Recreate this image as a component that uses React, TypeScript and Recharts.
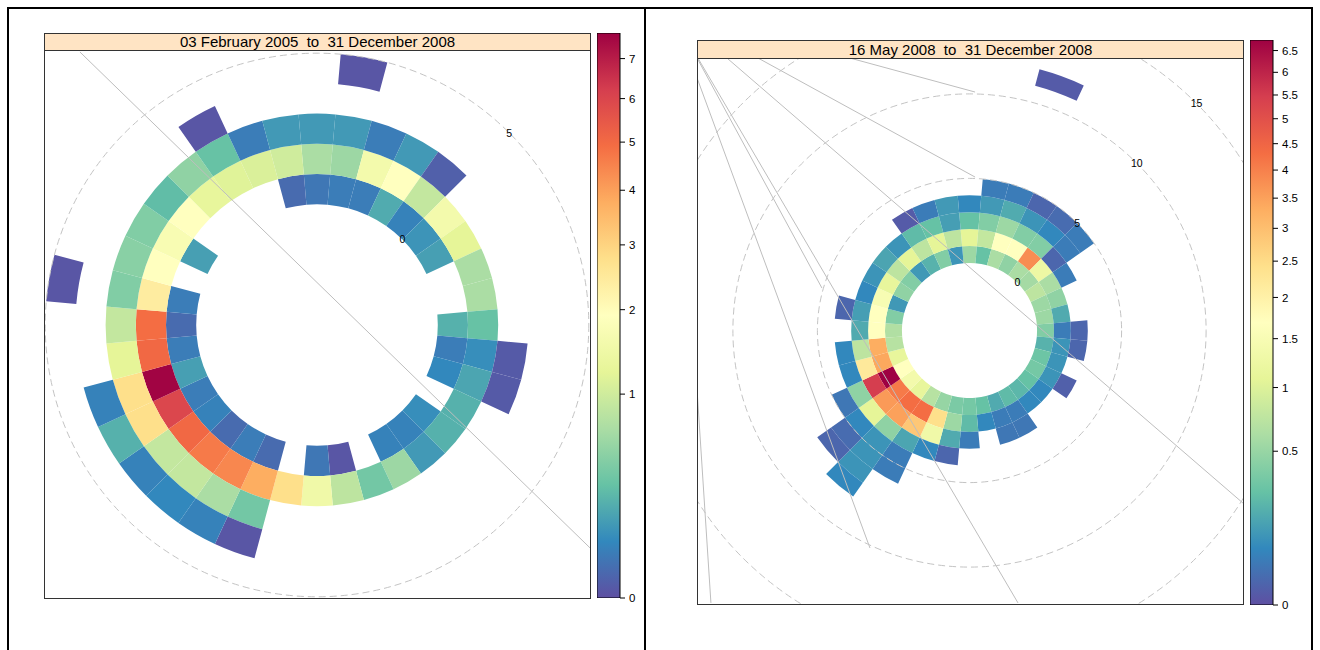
import React from 'react'
import {
  PieChart, Pie, Cell, ScatterChart, Scatter, XAxis, YAxis,
  ReferenceDot, ReferenceLine, LabelList, BarChart, Bar,
} from 'recharts'

const FONT = '"Liberation Sans", Arial, Helvetica, sans-serif'

// wind direction bins (degrees, centre of each 10 degree sector)
const DIRS = [0, 10, 20, 30, 40, 50, 60, 70, 80, 90, 100, 110, 120, 130, 140, 150, 160, 170,
  180, 190, 200, 210, 220, 230, 240, 250, 260, 270, 280, 290, 300, 310, 320, 330, 340, 350]

// brewer Spectral, low -> high
const SPECTRAL = ['#5E4FA2', '#3288BD', '#66C2A5', '#ABDDA4', '#E6F598', '#FFFFBF',
  '#FEE08B', '#FDAE61', '#F46D43', '#D53E4F', '#9E0142']

// ---- left panel: 03 Feb 2005 - 31 Dec 2008 ----
const LEFT_TITLE = '03 February 2005  to  31 December 2008'
const LEFT_MAX = 7.68
const LEFT_TICKS = [0, 1, 2, 3, 4, 5, 6, 7]
const LEFT_GRID_WS = [5]
const LEFT_LABEL_WS = [0, 5]
const L_WS0 = [0.038, 0.049, 0.049, 0.197, 0.062, 0.111, 0.151, null, null, 0.222,
  0.049, 0.077, null, 0.093, 0.062, 0.062, null, 0.001, 0.038, null,
  0.019, 0.049, 0.019, 0.062, 0.049, 0.151, 0.049, 0.019, 0.049, null,
  0.151, null, null, null, null, 0.019]
const L_WS1 = [0.69, 0.6, 1.56, 1.92, 0.89, 1.56, 1.23, 0.69, 0.69, 0.31,
  0.093, 0.173, 0.222, 0.222, 0.13, 0.6, 0.37, 0.84, 1.49, 2.76,
  3.76, 4.44, 4.67, 5.04, 5.95, 7.6, 5.04, 4.92, 2.41, 1.92,
  1.7, 1.92, 1.29, 1.17, 1.11, 1.0]
const L_WS2 = [0.13, 0.13, 0.049, 0.13, 0.007, null, null, null, null, null,
  0.003, 0.003, null, null, null, null, null, null, null, null,
  0.37, 0.69, 0.89, 0.89, 2.76, 2.76, 1.23, 0.89, 0.44, 0.48,
  0.44, 0.28, 0.52, 0.31, 0.049, 0.13]
const L_WS3 = [null, null, null, null, null, null, null, null, null, null,
  null, null, null, null, null, null, null, null, null, null,
  0.001, 0.062, 0.077, 0.062, 0.222, 0.062, null, null, null, null,
  null, null, null, 0.001, null, null]
const L_WS4 = [null, 0.001, null, null, null, null, null, null, null, null,
  null, null, null, null, null, null, null, null, null, null,
  null, null, null, null, null, null, null, null, 0.001, null,
  null, null, null, null, null, null]
// odd grey guide lines in the original, [x1, y1, x2, y2] in radius units
const LEFT_LINES = [[-7.85, 9.04, 9.04, -7.38]]

// ---- right panel: 16 May 2008 - 31 Dec 2008 ----
const RIGHT_TITLE = '16 May 2008  to  31 December 2008'
const RIGHT_MAX = 6.75
const RIGHT_TICKS = [0, 0.5, 1, 1.5, 2, 2.5, 3, 3.5, 4, 4.5, 5, 5.5, 6, 6.5]
const RIGHT_GRID_WS = [5, 10, 15]
const RIGHT_LABEL_WS = [0, 5, 10, 15]
const R_WS0 = [0.53, 0.27, 0.61, 0.46, 0.61, 0.57, 0.74, 0.53, 0.53, 0.39,
  0.2, 0.3, 0.33, 0.27, 0.22, 0.24, 0.17, 0.27, 0.33, 0.36,
  0.49, 0.69, 1.13, 1.37, 1.69, 1.13, 0.69, 0.65, 0.39, 0.11,
  0.46, 0.39, 0.11, 0.2, 0.39, 0.1]
const R_WS1 = [1.08, 0.78, 1.69, 1.69, 3.8, 1.25, 0.61, 0.46, 0.17, 0.043,
  0.097, 0.097, 0.097, 0.068, 0.068, 0.043, 0.043, 0.068, 0.24, 0.53,
  2.43, 4.32, 4.32, 4.11, 6.75, 3.4, 3.31, 1.69, 1.69, 1.49,
  1.13, 0.74, 1.08, 0.74, 1.08, 0.74]
const R_WS2 = [0.27, 0.39, 0.53, 0.39, 0.39, 0.011, 0.043, null, null, 0.011,
  0.011, null, 0.006, null, null, 0.033, 0.033, null, 0.043, 0.17,
  1.31, 2.85, 3.5, 3.6, 5.47, 2.19, 0.74, 0.17, 0.13, 0.068,
  0.097, 0.15, 0.097, 0.24, 0.27, 0.13]
const R_WS3 = [0.068, 0.114, 0.173, 0.097, 0.068, 0.043, null, null, null, null,
  null, null, null, null, null, null, null, null, null, 0.011,
  0.068, 0.152, 0.456, 1.08, 0.456, 0.068, 0.068, null, 0.011, null,
  null, null, null, 0.003, 0.043, 0.114]
const R_WS4 = [null, 0.043, 0.043, 0.011, 0.017, 0.043, null, null, null, null,
  null, null, null, null, null, null, null, null, null, null,
  null, 0.043, 0.097, 0.068, 0.033, null, null, null, null, null,
  null, null, null, null, null, null]
const R_WS5 = [null, null, null, null, null, null, null, null, null, null,
  null, null, null, null, null, null, null, null, null, null,
  null, 0.043, 0.097, 0.017, null, null, null, null, null, null,
  null, null, null, null, null, null]
const R_WS6 = [null, null, null, null, null, null, null, null, null, null,
  null, null, null, null, null, null, null, null, null, null,
  null, null, 0.097, 0.011, null, null, null, null, null, null,
  null, null, null, null, null, null]
const R_WS7 = [null, null, null, null, null, null, null, null, null, null,
  null, null, null, null, null, null, null, null, null, null,
  null, null, 0.068, null, null, null, null, null, null, null,
  null, null, null, null, null, null]
const R_WS11 = [null, null, 0.003, null, null, null, null, null, null, null,
  null, null, null, null, null, null, null, null, null, null,
  null, null, null, null, null, null, null, null, null, null,
  null, null, null, null, null, null]
const RIGHT_LINES = [
  [-16.12, 14.94, -5.89, -12.87],
  [-16.12, 16.12, -8.73, 2.51],
  [-16.07, 16.12, 2.87, -16.12],
  [-14.35, 16.12, 16.18, -10.21],
  [-12.51, 16.12, 0.33, 9.08],
  [-7.07, 16.12, 0.33, 14.11],
  [-16.12, -3.52, -15.3, -16.12],
]

const OFFSET = 4 // ws = 0 sits at this radius

function hexToRgb(h: string) {
  return [parseInt(h.slice(1, 3), 16), parseInt(h.slice(3, 5), 16), parseInt(h.slice(5, 7), 16)]
}

function ramp(t: number) {
  const x = Math.max(0, Math.min(1, t)) * (SPECTRAL.length - 1)
  const i = Math.min(Math.floor(x), SPECTRAL.length - 2)
  const f = x - i
  const a = hexToRgb(SPECTRAL[i])
  const b = hexToRgb(SPECTRAL[i + 1])
  const c = a.map((v, k) => Math.round(v + (b[k] - v) * f))
  return `rgb(${c[0]},${c[1]},${c[2]})`
}

const colourFor = (v: number, vmax: number) => ramp(Math.sqrt(v / vmax))

type Ring = { ws: number; values: (number | null)[] }

function PolarPlot({ rings, vmax, unit, width, height, cx, cy, gridWs, labelWs, lines }: any) {
  const labelPts = labelWs.map((ws: number) => {
    const r = OFFSET + ws
    return { x: r * Math.SQRT1_2, y: r * Math.SQRT1_2, text: String(ws) }
  })
  return (
    <>
      <div style={{ position: 'absolute', left: 0, top: 0 }}>
        <PieChart width={width} height={height} margin={{ top: 0, right: 0, bottom: 0, left: 0 }}>
          {rings.map((ring: Ring) => (
            <Pie
              key={ring.ws}
              data={DIRS.map((d, i) => ({ dir: d, span: 10, v: ring.values[i] }))}
              dataKey="span"
              cx={cx}
              cy={cy}
              innerRadius={(OFFSET + ring.ws) * unit}
              outerRadius={(OFFSET + ring.ws + 1) * unit}
              startAngle={95}
              endAngle={-265}
              stroke="none"
              isAnimationActive={false}
            >
              {ring.values.map((v, i) => (
                <Cell key={i} fill={v == null ? 'none' : colourFor(v, vmax)} stroke="none" />
              ))}
            </Pie>
          ))}
        </PieChart>
      </div>
      <div style={{ position: 'absolute', left: 0, top: 0 }}>
        <ScatterChart width={width} height={height} margin={{ top: 0, right: 0, bottom: 0, left: 0 }}>
          <XAxis type="number" dataKey="x" hide allowDataOverflow domain={[-cx / unit, (width - cx) / unit]} />
          <YAxis type="number" dataKey="y" hide allowDataOverflow domain={[-(height - cy) / unit, cy / unit]} />
          {gridWs.map((ws: number) => (
            <ReferenceDot key={ws} x={0} y={0} r={(OFFSET + ws) * unit} fill="none"
              stroke="#c4c4c4" strokeWidth={1} strokeDasharray="7 4" ifOverflow="visible" />
          ))}
          {lines.map((s: number[], i: number) => (
            <ReferenceLine key={i} segment={[{ x: s[0], y: s[1] }, { x: s[2], y: s[3] }]}
              stroke="#bebebe" strokeWidth={1} ifOverflow="visible" />
          ))}
          <Scatter data={labelPts} shape={() => <g />} isAnimationActive={false}>
            <LabelList dataKey="text" position="center" fill="#000" fontSize={10.5} fontFamily={FONT} />
          </Scatter>
        </ScatterChart>
      </div>
    </>
  )
}

function ColourKey({ id, vmax, ticks, left, top }: any) {
  return (
    <div style={{ position: 'absolute', left, top }}>
      <BarChart width={60} height={577} data={[{ k: 'key', v: vmax }]}
        margin={{ top: 6, right: 0, bottom: 6, left: 0 }} barCategoryGap={0}>
        <defs>
          <linearGradient id={id} x1="0" y1="1" x2="0" y2="0">
            {SPECTRAL.map((c, i) => <stop key={i} offset={i / 10} stopColor={c} />)}
          </linearGradient>
        </defs>
        <XAxis dataKey="k" hide />
        <YAxis orientation="right" type="number" scale="sqrt" domain={[0, vmax]} ticks={ticks}
          interval={0} width={37} tickSize={5} tickMargin={4} axisLine={false}
          tickLine={{ stroke: '#000' }} tick={{ fontSize: 11.5, fill: '#000', fontFamily: FONT }} allowDataOverflow />
        <Bar dataKey="v" fill={`url(#${id})`} stroke="#000" strokeWidth={1} isAnimationActive={false} />
      </BarChart>
    </div>
  )
}

function Panel({ title, strip, box, ...rest }: any) {
  return (
    <>
      <div style={{
        position: 'absolute', left: strip.left, top: strip.top, width: strip.width, height: strip.height,
        background: '#FFE4C4', border: '1px solid #333', boxSizing: 'border-box',
        fontSize: 15, lineHeight: `${strip.height - 2}px`, textAlign: 'center', whiteSpace: 'pre', color: '#000',
      }}>{title}</div>
      <div style={{
        position: 'absolute', left: box.left, top: box.top, width: box.width, height: box.height, overflow: 'hidden',
      }}>
        <PolarPlot width={box.width} height={box.height} {...rest} />
        <div style={{ position: 'absolute', inset: 0, border: '1px solid #333', pointerEvents: 'none' }} />
      </div>
    </>
  )
}

export default function App() {
  const leftRings: Ring[] = [
    { ws: 0, values: L_WS0 }, { ws: 1, values: L_WS1 }, { ws: 2, values: L_WS2 },
    { ws: 3, values: L_WS3 }, { ws: 4, values: L_WS4 },
  ]
  const rightRings: Ring[] = [
    { ws: 0, values: R_WS0 }, { ws: 1, values: R_WS1 }, { ws: 2, values: R_WS2 },
    { ws: 3, values: R_WS3 }, { ws: 4, values: R_WS4 }, { ws: 5, values: R_WS5 },
    { ws: 6, values: R_WS6 }, { ws: 7, values: R_WS7 }, { ws: 11, values: R_WS11 },
  ]
  return (
    <div style={{
      position: 'absolute', left: 0, top: 0, width: 1320, height: 650, background: '#fff',
      overflow: 'hidden', fontFamily: FONT,
    }}>
      {/* page frame */}
      <div style={{ position: 'absolute', left: 7, top: 7, width: 1306, height: 660, border: '2px solid #000', boxSizing: 'border-box' }} />
      <div style={{ position: 'absolute', left: 644, top: 8, width: 2, height: 650, background: '#000' }} />

      <Panel
        title={LEFT_TITLE}
        strip={{ left: 44, top: 33, width: 547, height: 18 }}
        box={{ left: 44, top: 50, width: 547, height: 549 }}
        rings={leftRings} vmax={LEFT_MAX} unit={30.2} cx={273} cy={275}
        gridWs={LEFT_GRID_WS} labelWs={LEFT_LABEL_WS} lines={LEFT_LINES}
      />
      <ColourKey id="keyL" vmax={LEFT_MAX} ticks={LEFT_TICKS} left={597} top={27} />

      <Panel
        title={RIGHT_TITLE}
        strip={{ left: 697, top: 40, width: 547, height: 19 }}
        box={{ left: 697, top: 58, width: 547, height: 547 }}
        rings={rightRings} vmax={RIGHT_MAX} unit={16.9} cx={272.5} cy={272.5}
        gridWs={RIGHT_GRID_WS} labelWs={RIGHT_LABEL_WS} lines={RIGHT_LINES}
      />
      <ColourKey id="keyR" vmax={RIGHT_MAX} ticks={RIGHT_TICKS} left={1250} top={34} />
    </div>
  )
}
